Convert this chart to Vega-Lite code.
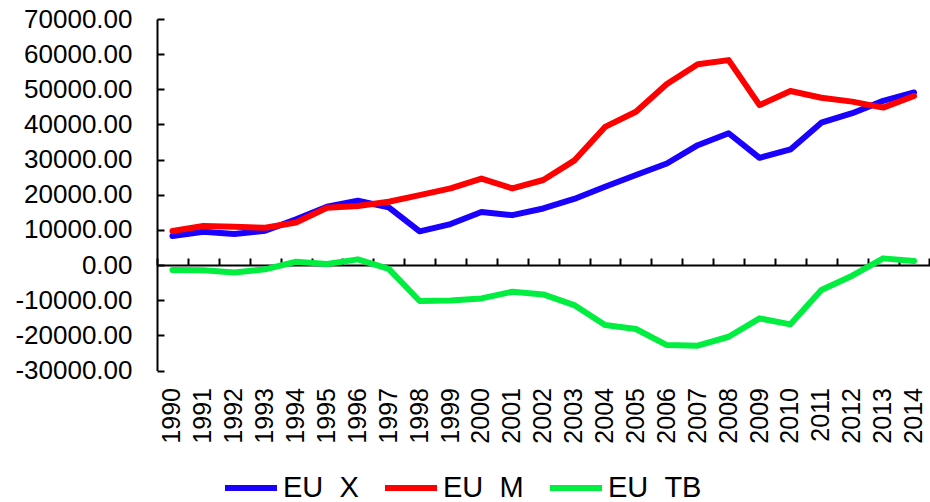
{
  "$schema": "https://vega.github.io/schema/vega-lite/v6.json",
  "width": 772.5,
  "height": 351.5,
  "autosize": {"type": "none"},
  "padding": {"left": 157, "top": 19, "right": 0.5, "bottom": 131.5},
  "config": {
    "view": {"stroke": null},
    "font": "Liberation Sans",
    "axis": {"labelFont": "Liberation Sans", "labelColor": "#000000", "domainColor": "#000000", "tickColor": "#000000", "grid": false}
  },
  "data": {
    "values": [
      {"Year": "1990", "Series": "EU\u00a0\u00a0X", "Value": 8250},
      {"Year": "1991", "Series": "EU\u00a0\u00a0X", "Value": 9470},
      {"Year": "1992", "Series": "EU\u00a0\u00a0X", "Value": 8820},
      {"Year": "1993", "Series": "EU\u00a0\u00a0X", "Value": 9760},
      {"Year": "1994", "Series": "EU\u00a0\u00a0X", "Value": 13000},
      {"Year": "1995", "Series": "EU\u00a0\u00a0X", "Value": 16600},
      {"Year": "1996", "Series": "EU\u00a0\u00a0X", "Value": 18300},
      {"Year": "1997", "Series": "EU\u00a0\u00a0X", "Value": 16400},
      {"Year": "1998", "Series": "EU\u00a0\u00a0X", "Value": 9600},
      {"Year": "1999", "Series": "EU\u00a0\u00a0X", "Value": 11660},
      {"Year": "2000", "Series": "EU\u00a0\u00a0X", "Value": 15080},
      {"Year": "2001", "Series": "EU\u00a0\u00a0X", "Value": 14200},
      {"Year": "2002", "Series": "EU\u00a0\u00a0X", "Value": 16100},
      {"Year": "2003", "Series": "EU\u00a0\u00a0X", "Value": 18800},
      {"Year": "2004", "Series": "EU\u00a0\u00a0X", "Value": 22300},
      {"Year": "2005", "Series": "EU\u00a0\u00a0X", "Value": 25600},
      {"Year": "2006", "Series": "EU\u00a0\u00a0X", "Value": 28900},
      {"Year": "2007", "Series": "EU\u00a0\u00a0X", "Value": 34100},
      {"Year": "2008", "Series": "EU\u00a0\u00a0X", "Value": 37500},
      {"Year": "2009", "Series": "EU\u00a0\u00a0X", "Value": 30500},
      {"Year": "2010", "Series": "EU\u00a0\u00a0X", "Value": 32900},
      {"Year": "2011", "Series": "EU\u00a0\u00a0X", "Value": 40500},
      {"Year": "2012", "Series": "EU\u00a0\u00a0X", "Value": 43200},
      {"Year": "2013", "Series": "EU\u00a0\u00a0X", "Value": 46700},
      {"Year": "2014", "Series": "EU\u00a0\u00a0X", "Value": 49100},
      {"Year": "1990", "Series": "EU\u00a0\u00a0M", "Value": 9670},
      {"Year": "1991", "Series": "EU\u00a0\u00a0M", "Value": 11100},
      {"Year": "1992", "Series": "EU\u00a0\u00a0M", "Value": 10900},
      {"Year": "1993", "Series": "EU\u00a0\u00a0M", "Value": 10600},
      {"Year": "1994", "Series": "EU\u00a0\u00a0M", "Value": 12100},
      {"Year": "1995", "Series": "EU\u00a0\u00a0M", "Value": 16300},
      {"Year": "1996", "Series": "EU\u00a0\u00a0M", "Value": 16800},
      {"Year": "1997", "Series": "EU\u00a0\u00a0M", "Value": 18000},
      {"Year": "1998", "Series": "EU\u00a0\u00a0M", "Value": 19900},
      {"Year": "1999", "Series": "EU\u00a0\u00a0M", "Value": 21800},
      {"Year": "2000", "Series": "EU\u00a0\u00a0M", "Value": 24600},
      {"Year": "2001", "Series": "EU\u00a0\u00a0M", "Value": 21800},
      {"Year": "2002", "Series": "EU\u00a0\u00a0M", "Value": 24200},
      {"Year": "2003", "Series": "EU\u00a0\u00a0M", "Value": 29700},
      {"Year": "2004", "Series": "EU\u00a0\u00a0M", "Value": 39300},
      {"Year": "2005", "Series": "EU\u00a0\u00a0M", "Value": 43600},
      {"Year": "2006", "Series": "EU\u00a0\u00a0M", "Value": 51500},
      {"Year": "2007", "Series": "EU\u00a0\u00a0M", "Value": 57100},
      {"Year": "2008", "Series": "EU\u00a0\u00a0M", "Value": 58300},
      {"Year": "2009", "Series": "EU\u00a0\u00a0M", "Value": 45500},
      {"Year": "2010", "Series": "EU\u00a0\u00a0M", "Value": 49500},
      {"Year": "2011", "Series": "EU\u00a0\u00a0M", "Value": 47600},
      {"Year": "2012", "Series": "EU\u00a0\u00a0M", "Value": 46500},
      {"Year": "2013", "Series": "EU\u00a0\u00a0M", "Value": 44800},
      {"Year": "2014", "Series": "EU\u00a0\u00a0M", "Value": 48100},
      {"Year": "1990", "Series": "EU\u00a0\u00a0TB", "Value": -1420},
      {"Year": "1991", "Series": "EU\u00a0\u00a0TB", "Value": -1500},
      {"Year": "1992", "Series": "EU\u00a0\u00a0TB", "Value": -2100},
      {"Year": "1993", "Series": "EU\u00a0\u00a0TB", "Value": -1220},
      {"Year": "1994", "Series": "EU\u00a0\u00a0TB", "Value": 940},
      {"Year": "1995", "Series": "EU\u00a0\u00a0TB", "Value": 280},
      {"Year": "1996", "Series": "EU\u00a0\u00a0TB", "Value": 1620},
      {"Year": "1997", "Series": "EU\u00a0\u00a0TB", "Value": -1100},
      {"Year": "1998", "Series": "EU\u00a0\u00a0TB", "Value": -10240},
      {"Year": "1999", "Series": "EU\u00a0\u00a0TB", "Value": -10100},
      {"Year": "2000", "Series": "EU\u00a0\u00a0TB", "Value": -9500},
      {"Year": "2001", "Series": "EU\u00a0\u00a0TB", "Value": -7590},
      {"Year": "2002", "Series": "EU\u00a0\u00a0TB", "Value": -8350},
      {"Year": "2003", "Series": "EU\u00a0\u00a0TB", "Value": -11380},
      {"Year": "2004", "Series": "EU\u00a0\u00a0TB", "Value": -17070},
      {"Year": "2005", "Series": "EU\u00a0\u00a0TB", "Value": -18200},
      {"Year": "2006", "Series": "EU\u00a0\u00a0TB", "Value": -22760},
      {"Year": "2007", "Series": "EU\u00a0\u00a0TB", "Value": -22950},
      {"Year": "2008", "Series": "EU\u00a0\u00a0TB", "Value": -20400},
      {"Year": "2009", "Series": "EU\u00a0\u00a0TB", "Value": -15170},
      {"Year": "2010", "Series": "EU\u00a0\u00a0TB", "Value": -16870},
      {"Year": "2011", "Series": "EU\u00a0\u00a0TB", "Value": -7110},
      {"Year": "2012", "Series": "EU\u00a0\u00a0TB", "Value": -3040},
      {"Year": "2013", "Series": "EU\u00a0\u00a0TB", "Value": 1900},
      {"Year": "2014", "Series": "EU\u00a0\u00a0TB", "Value": 1140}
    ]
  },
  "layer": [
    {
      "mark": {"type": "line", "strokeWidth": 6, "strokeCap": "round", "strokeJoin": "round"},
      "encoding": {
        "x": {
          "field": "Year", "type": "ordinal", "bandPosition": 0.5,
          "scale": {"type": "band", "paddingInner": 0, "paddingOuter": 0},
          "axis": {"orient": "top", "offset": -246, "labels": false, "ticks": true, "tickBand": "extent", "tickSize": 7, "tickWidth": 2, "domain": true, "domainWidth": 2, "title": null}
        },
        "y": {
          "field": "Value", "type": "quantitative",
          "scale": {"domain": [-30000, 70000], "nice": false, "zero": false},
          "axis": {
            "values": [-30000, -20000, -10000, 0, 10000, 20000, 30000, 40000, 50000, 60000, 70000],
            "labelExpr": "(datum.value < 0 ? '-' : '') + format(abs(datum.value), '.2f')",
            "labelFontSize": 26, "tickSize": -7, "tickWidth": 2, "domainWidth": 2, "labelPadding": 32, "title": null
          }
        },
        "color": {
          "field": "Series", "type": "nominal",
          "sort": ["EU\u00a0\u00a0X", "EU\u00a0\u00a0M", "EU\u00a0\u00a0TB"],
          "scale": {"domain": ["EU\u00a0\u00a0X", "EU\u00a0\u00a0M", "EU\u00a0\u00a0TB"], "range": ["#1a00ff", "#ff0000", "#00ee40"]},
          "legend": {
            "orient": "none", "legendX": 65, "legendY": 440, "direction": "horizontal", "title": null,
            "symbolType": "stroke", "symbolSize": 2704, "symbolStrokeWidth": 6,
            "labelFontSize": 29, "labelFont": "Liberation Sans", "labelColor": "#000000", "labelOffset": 3,
            "columnPadding": 14, "labelLimit": 400
          }
        }
      }
    },
    {
      "mark": {"type": "point", "opacity": 0},
      "encoding": {
        "x": {
          "field": "Year", "type": "ordinal", "bandPosition": 0.5,
          "scale": {"type": "band", "paddingInner": 0, "paddingOuter": 0},
          "axis": {"orient": "bottom", "labelAngle": -90, "labelAlign": "right", "labelBaseline": "middle", "labelFontSize": 25, "domain": false, "ticks": false, "labelPadding": 17, "title": null}
        }
      }
    }
  ],
  "resolve": {"axis": {"x": "independent"}}
}
